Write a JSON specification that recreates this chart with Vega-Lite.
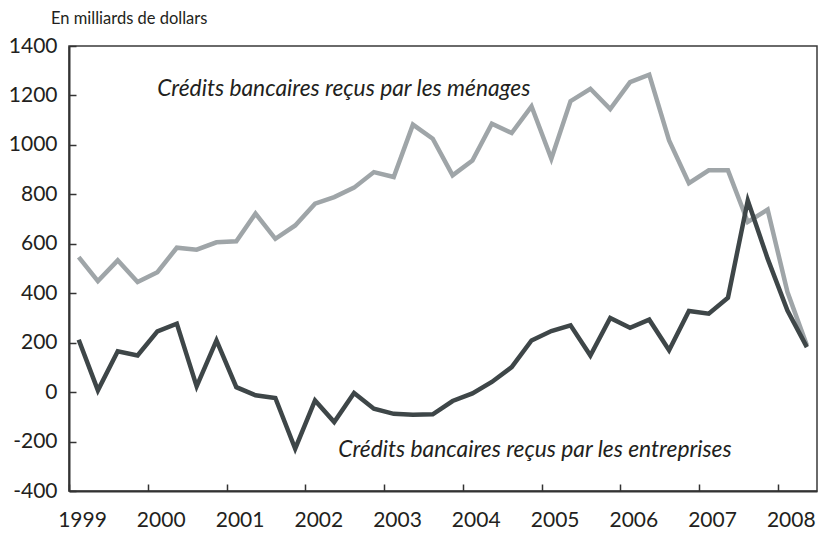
{
  "$schema": "https://vega.github.io/schema/vega-lite/v6.json",
  "width": 748,
  "height": 445,
  "autosize": "none",
  "padding": {"left": 69, "top": 46, "right": 1, "bottom": 42},
  "background": "white",
  "config": {
    "font": "Lato",
    "view": {"stroke": "#3a3a3a", "strokeWidth": 1.5},
    "axis": {
      "domainColor": "#333333",
      "domainWidth": 2,
      "tickColor": "#333333",
      "tickWidth": 1.5,
      "tickSize": -7,
      "grid": false,
      "labelFont": "Lato",
      "labelFontSize": 21,
      "labelColor": "#231f20",
      "labelFlush": false,
      "labelOverlap": false,
      "labelBound": false,
      "title": null
    }
  },
  "title": {
    "text": "En milliards de dollars",
    "anchor": "start",
    "frame": "group",
    "font": "Lato",
    "fontSize": 16.5,
    "fontWeight": "normal",
    "color": "#231f20",
    "baseline": "alphabetic",
    "dx": -18,
    "offset": -5
  },
  "datasets": {
    "credits": [
      {"trimestre": "1999-02-15", "menages": 546, "entreprises": 212},
      {"trimestre": "1999-05-15", "menages": 449, "entreprises": 7},
      {"trimestre": "1999-08-15", "menages": 533, "entreprises": 165},
      {"trimestre": "1999-11-15", "menages": 445, "entreprises": 148},
      {"trimestre": "2000-02-15", "menages": 485, "entreprises": 246},
      {"trimestre": "2000-05-15", "menages": 584, "entreprises": 277},
      {"trimestre": "2000-08-15", "menages": 576, "entreprises": 23},
      {"trimestre": "2000-11-15", "menages": 606, "entreprises": 209},
      {"trimestre": "2001-02-15", "menages": 610, "entreprises": 20},
      {"trimestre": "2001-05-15", "menages": 722, "entreprises": -13},
      {"trimestre": "2001-08-15", "menages": 620, "entreprises": -24},
      {"trimestre": "2001-11-15", "menages": 674, "entreprises": -229},
      {"trimestre": "2002-02-15", "menages": 762, "entreprises": -34},
      {"trimestre": "2002-05-15", "menages": 789, "entreprises": -121},
      {"trimestre": "2002-08-15", "menages": 827, "entreprises": -4},
      {"trimestre": "2002-11-15", "menages": 890, "entreprises": -67},
      {"trimestre": "2003-02-15", "menages": 870, "entreprises": -88},
      {"trimestre": "2003-05-15", "menages": 1082, "entreprises": -92},
      {"trimestre": "2003-08-15", "menages": 1025, "entreprises": -90},
      {"trimestre": "2003-11-15", "menages": 877, "entreprises": -36},
      {"trimestre": "2004-02-15", "menages": 937, "entreprises": -5},
      {"trimestre": "2004-05-15", "menages": 1086, "entreprises": 41},
      {"trimestre": "2004-08-15", "menages": 1048, "entreprises": 101},
      {"trimestre": "2004-11-15", "menages": 1156, "entreprises": 209},
      {"trimestre": "2005-02-15", "menages": 944, "entreprises": 247},
      {"trimestre": "2005-05-15", "menages": 1177, "entreprises": 270},
      {"trimestre": "2005-08-15", "menages": 1227, "entreprises": 148},
      {"trimestre": "2005-11-15", "menages": 1145, "entreprises": 300},
      {"trimestre": "2006-02-15", "menages": 1254, "entreprises": 260},
      {"trimestre": "2006-05-15", "menages": 1284, "entreprises": 293},
      {"trimestre": "2006-08-15", "menages": 1018, "entreprises": 169},
      {"trimestre": "2006-11-15", "menages": 845, "entreprises": 328},
      {"trimestre": "2007-02-15", "menages": 897, "entreprises": 317},
      {"trimestre": "2007-05-15", "menages": 897, "entreprises": 382},
      {"trimestre": "2007-08-15", "menages": 688, "entreprises": 775},
      {"trimestre": "2007-11-15", "menages": 738, "entreprises": 540},
      {"trimestre": "2008-02-15", "menages": 405, "entreprises": 330},
      {"trimestre": "2008-05-15", "menages": 189, "entreprises": 182}
    ],
    "etiquettes": [
      {"trimestre": "2000-02-14", "valeur": 1196, "texte": "Crédits bancaires reçus par les ménages"},
      {"trimestre": "2002-06-03", "valeur": -262, "texte": "Crédits bancaires reçus par les entreprises"}
    ]
  },
  "encoding": {
    "x": {
      "field": "trimestre",
      "type": "temporal",
      "scale": {
        "type": "utc",
        "domain": [
          {"year": 1999, "month": 1, "date": 1, "utc": true},
          {"year": 2008, "month": 7, "date": 1, "utc": true}
        ]
      },
      "axis": {
        "values": [
          {"year": 1999, "month": 1, "date": 1, "utc": true},
          {"year": 2000, "month": 1, "date": 1, "utc": true},
          {"year": 2001, "month": 1, "date": 1, "utc": true},
          {"year": 2002, "month": 1, "date": 1, "utc": true},
          {"year": 2003, "month": 1, "date": 1, "utc": true},
          {"year": 2004, "month": 1, "date": 1, "utc": true},
          {"year": 2005, "month": 1, "date": 1, "utc": true},
          {"year": 2006, "month": 1, "date": 1, "utc": true},
          {"year": 2007, "month": 1, "date": 1, "utc": true},
          {"year": 2008, "month": 1, "date": 1, "utc": true}
        ],
        "format": "%Y",
        "labelOffset": 13,
        "labelPadding": 25
      }
    }
  },
  "layer": [
    {
      "data": {"name": "credits"},
      "mark": {"type": "line", "color": "#9fa5a8", "strokeWidth": 4.5, "strokeJoin": "miter"},
      "encoding": {
        "y": {
          "field": "menages",
          "type": "quantitative",
          "scale": {"domain": [-400, 1400], "nice": false, "zero": false},
          "axis": {
            "values": [-400, -200, 0, 200, 400, 600, 800, 1000, 1200, 1400],
            "labelExpr": "'' + datum.value",
            "labelPadding": 19
          }
        }
      }
    },
    {
      "data": {"name": "credits"},
      "mark": {"type": "line", "color": "#3e4648", "strokeWidth": 4.5, "strokeJoin": "miter"},
      "encoding": {
        "y": {"field": "entreprises", "type": "quantitative"}
      }
    },
    {
      "data": {"name": "etiquettes"},
      "mark": {
        "type": "text",
        "align": "left",
        "baseline": "alphabetic",
        "font": "Lato",
        "fontSize": 22.8,
        "fontStyle": "italic",
        "color": "#231f20"
      },
      "encoding": {
        "y": {"field": "valeur", "type": "quantitative"},
        "text": {"field": "texte"}
      }
    }
  ]
}
